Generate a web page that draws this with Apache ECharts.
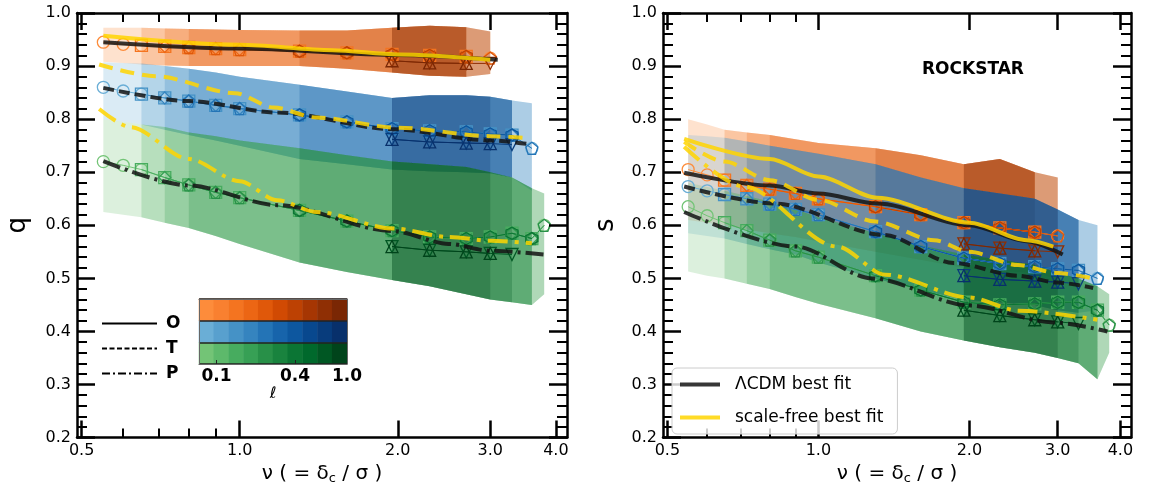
<!DOCTYPE html>
<html>
<head>
<meta charset="UTF-8">
<title>q and s versus nu</title>
<script src="https://cdn.jsdelivr.net/npm/echarts/dist/echarts.min.js"></script>
<style>
  html, body { margin: 0; padding: 0; background: #fff; }
  #chart { width: 1168px; height: 490px; }
</style>
</head>
<body>
<div id="chart"></div>
<script>
// nu = delta_c / sigma grid where medians and spreads were read
const NU = [0.55, 0.6, 0.65, 0.72, 0.8, 0.9, 1.0, 1.3, 1.6, 1.95, 2.3, 2.7, 3.0, 3.3, 3.6, 3.8];

// left panel: q
const qO_mid  = [0.945, 0.941, 0.939, 0.937, 0.935, 0.933, 0.931, 0.928, 0.925, 0.922, 0.920, 0.918, 0.915, null, null, null];
const qO_lo   = [0.908, 0.906, 0.903, 0.901, 0.900, 0.900, 0.900, 0.900, 0.895, 0.888, 0.882, 0.880, 0.885, null, null, null];
const qO_hi   = [0.972, 0.972, 0.972, 0.971, 0.970, 0.969, 0.968, 0.967, 0.967, 0.972, 0.976, 0.973, 0.965, null, null, null];
const qO_dark = [null, null, null, null, null, null, null, null, null, 0.910, 0.906, 0.905, 0.905, null, null, null];

const qT_mid  = [0.860, 0.853, 0.847, 0.840, 0.834, 0.826, 0.820, 0.808, 0.795, 0.782, 0.778, 0.776, 0.772, 0.770, 0.745, null];
const qT_lo   = [0.800, 0.795, 0.790, 0.780, 0.770, 0.760, 0.750, 0.725, 0.715, 0.705, 0.702, 0.700, 0.698, 0.690, 0.665, null];
const qT_hi   = [0.907, 0.906, 0.905, 0.900, 0.895, 0.888, 0.880, 0.865, 0.852, 0.840, 0.845, 0.845, 0.842, 0.835, 0.830, null];
const qT_dark = [null, null, null, null, null, null, null, null, null, 0.762, 0.757, 0.755, 0.754, 0.752, null, null];

const qP_mid  = [0.720, 0.713, 0.705, 0.690, 0.676, 0.662, 0.652, 0.628, 0.608, 0.590, 0.578, 0.575, 0.578, 0.585, 0.575, 0.600];
const qP_lo   = [0.625, 0.620, 0.615, 0.605, 0.595, 0.580, 0.565, 0.530, 0.512, 0.497, 0.485, 0.470, 0.460, 0.455, 0.450, 0.470];
const qP_hi   = [0.800, 0.795, 0.790, 0.785, 0.775, 0.768, 0.760, 0.745, 0.732, 0.720, 0.715, 0.710, 0.700, 0.690, 0.670, 0.660];
const qP_dark = [null, null, null, null, null, null, null, null, null, 0.560, 0.553, 0.550, 0.547, 0.545, null, null];

// right panel: s
const sO_mid  = [0.705, 0.695, 0.685, 0.675, 0.668, 0.660, 0.650, 0.635, 0.620, 0.605, 0.595, 0.587, 0.580, null, null, null];
const sO_lo   = [0.610, 0.605, 0.600, 0.592, 0.585, 0.578, 0.570, 0.550, 0.535, 0.520, 0.515, 0.510, 0.500, null, null, null];
const sO_hi   = [0.800, 0.790, 0.780, 0.775, 0.770, 0.762, 0.755, 0.745, 0.732, 0.715, 0.725, 0.700, 0.690, null, null, null];
const sO_dark = [null, null, null, null, null, null, null, null, null, 0.565, 0.557, 0.552, 0.550, null, null, null];

const sT_mid  = [0.673, 0.665, 0.658, 0.650, 0.640, 0.630, 0.620, 0.588, 0.560, 0.538, 0.528, 0.522, 0.518, 0.515, 0.500, null];
const sT_lo   = [0.585, 0.580, 0.575, 0.565, 0.555, 0.545, 0.530, 0.500, 0.478, 0.460, 0.455, 0.450, 0.440, 0.435, 0.440, null];
const sT_hi   = [0.770, 0.768, 0.765, 0.758, 0.750, 0.742, 0.735, 0.715, 0.690, 0.670, 0.660, 0.650, 0.630, 0.610, 0.600, null];
const sT_dark = [null, null, null, null, null, null, null, null, null, 0.505, 0.498, 0.495, 0.493, 0.490, null, null];

const sP_mid  = [0.635, 0.618, 0.605, 0.590, 0.572, 0.552, 0.540, 0.505, 0.478, 0.455, 0.450, 0.452, 0.455, 0.455, 0.440, 0.412];
const sP_lo   = [0.513, 0.505, 0.500, 0.490, 0.480, 0.465, 0.452, 0.425, 0.400, 0.383, 0.370, 0.360, 0.350, 0.340, 0.310, 0.360];
const sP_hi   = [0.680, 0.672, 0.665, 0.655, 0.645, 0.630, 0.615, 0.585, 0.562, 0.545, 0.535, 0.525, 0.510, 0.500, 0.485, 0.470];
const sP_dark = [null, null, null, null, null, null, null, null, null, 0.440, 0.430, 0.422, 0.418, 0.415, null, null];

// best-fit curves (nu, value)
const qFit_kO_nu = [0.55, 1.0, 2.0, 3.1];
const qFit_kO    = [0.945, 0.933, 0.921, 0.912];
const qFit_yO_nu = [0.55, 1.0, 1.5, 2.0, 3.0];
const qFit_yO    = [0.957, 0.940, 0.930, 0.922, 0.912];
const qFit_kT_nu = [0.55, 0.8, 1.18, 1.96, 3.0, 3.55];
const qFit_kT    = [0.859, 0.834, 0.8125, 0.781, 0.760, 0.753];
const qFit_yT_nu = [0.54, 0.69, 0.98, 1.16, 1.4, 2.0, 3.0, 3.55];
const qFit_yT    = [0.903, 0.881, 0.849, 0.822, 0.803, 0.784, 0.768, 0.764];
const qFit_kP_nu = [0.55, 0.8, 1.18, 1.96, 2.5, 3.0, 3.8];
const qFit_kP    = [0.721, 0.675, 0.638, 0.589, 0.565, 0.552, 0.545];
const qFit_yP_nu = [0.54, 0.62, 0.8, 1.0, 1.18, 1.4, 1.96, 2.5, 3.0, 3.6];
const qFit_yP    = [0.819, 0.785, 0.725, 0.683, 0.647, 0.625, 0.594, 0.578, 0.571, 0.566];

const sFit_kO_nu = [0.54, 0.8, 1.0, 1.31, 2.0, 2.6, 3.07];
const sFit_kO    = [0.699, 0.675, 0.660, 0.641, 0.600, 0.570, 0.545];
const sFit_yO_nu = [0.54, 0.8, 1.0, 1.31, 2.0, 2.6, 2.94];
const sFit_yO    = [0.763, 0.725, 0.692, 0.652, 0.605, 0.572, 0.560];
const sFit_kT_nu = [0.54, 0.82, 1.35, 1.86, 2.5, 3.0, 3.53];
const sFit_kT    = [0.673, 0.641, 0.582, 0.529, 0.505, 0.492, 0.482];
const sFit_yT_nu = [0.54, 0.65, 0.8, 1.0, 1.3, 1.7, 2.0, 2.5, 3.0, 3.53];
const sFit_yT    = [0.757, 0.720, 0.685, 0.648, 0.607, 0.572, 0.550, 0.525, 0.510, 0.500];
const sFit_kP_nu = [0.54, 0.9, 1.28, 2.0, 2.94, 3.77];
const sFit_kP    = [0.625, 0.560, 0.500, 0.449, 0.417, 0.400];
const sFit_yP_nu = [0.54, 0.71, 1.09, 1.36, 2.0, 2.51, 3.6];
const sFit_yP    = [0.748, 0.673, 0.560, 0.507, 0.464, 0.439, 0.422];

// colour shades for ell (light -> dark)
const ORANGES = ['#fd8c3b', '#f98030', '#f47420', '#ec6614', '#e0580a', '#d14a03', '#bd4103', '#a63603', '#8f2f04', '#7a2704'];
const BLUES   = ['#6aaed6', '#58a0ce', '#4592c6', '#3584bf', '#2474b6', '#1764ab', '#0d579f', '#08488e', '#083c7c', '#08306b'];
const GREENS  = ['#73c476', '#5db96b', '#47ac5f', '#37a055', '#289048', '#19833e', '#0b7534', '#00692c', '#005723', '#00441b'];

// ell bins: first grid point, points cut before group end, hard end, shade
const BIN_START = [0, 2, 3, 4, 7, 9, 9];
const BIN_TRIM  = [0, 1, 1, 0, 1, 0, 1];
const BIN_CAP   = [99, 99, 99, 99, 99, 13, 12];
const BIN_SHADE = [0, 2, 3, 4, 6, 8, 9];

const X_MAJOR = [0.5, 1, 2, 3, 4];
const X_MINOR = [0.6, 0.7, 0.8, 0.9];
const CB_TICKS = [0.1, 0.4, 1.0];

const FONT = 'DejaVu Sans';
const L = Math.log10;
const X_MIN = L(0.49), X_MAX = L(4.2);
const BAND_ALPHA = 0.25;

const PENTAGON = 'path://M0,-10L9.51,-3.09L5.88,8.09L-5.88,8.09L-9.51,-3.09Z';
const HEXAGON = 'path://M0,-10L8.66,-5L8.66,5L0,10L-8.66,5L-8.66,-5Z';
const DOWNTRI = 'path://M-10,-8L10,-8L0,9Z';
const SYMS = ['circle', 'rect', 'diamond', PENTAGON, HEXAGON, DOWNTRI, 'triangle'];

const K_DASH = { solid: 'solid', dashed: [11, 5], dashdot: [18, 5, 3, 5] };
const Y_DASH = { solid: 'solid', dashed: [14, 8], dashdot: [20, 7, 4, 7] };

const panels = [
  {
    grid: { left: 77, top: 13, width: 490, height: 428 }, yname: 'q', nameGap: 46,
    groups: [
      { mid: qO_mid, lo: qO_lo, hi: qO_hi, dark: qO_dark, last: 12, pal: ORANGES },
      { mid: qT_mid, lo: qT_lo, hi: qT_hi, dark: qT_dark, last: 14, pal: BLUES },
      { mid: qP_mid, lo: qP_lo, hi: qP_hi, dark: qP_dark, last: 15, pal: GREENS }
    ],
    fits: [
      [qFit_kO_nu, qFit_kO, qFit_yO_nu, qFit_yO, 'solid'],
      [qFit_kT_nu, qFit_kT, qFit_yT_nu, qFit_yT, 'dashed'],
      [qFit_kP_nu, qFit_kP, qFit_yP_nu, qFit_yP, 'dashdot']
    ]
  },
  {
    grid: { left: 663, top: 13, width: 468, height: 428 }, yname: 's', nameGap: 44,
    groups: [
      { mid: sO_mid, lo: sO_lo, hi: sO_hi, dark: sO_dark, last: 12, pal: ORANGES },
      { mid: sT_mid, lo: sT_lo, hi: sT_hi, dark: sT_dark, last: 14, pal: BLUES },
      { mid: sP_mid, lo: sP_lo, hi: sP_hi, dark: sP_dark, last: 15, pal: GREENS }
    ],
    fits: [
      [sFit_kO_nu, sFit_kO, sFit_yO_nu, sFit_yO, 'solid'],
      [sFit_kT_nu, sFit_kT, sFit_yT_nu, sFit_yT, 'dashed'],
      [sFit_kP_nu, sFit_kP, sFit_yP_nu, sFit_yP, 'dashdot']
    ]
  }
];

const frameLine = { show: true, onZero: false, lineStyle: { color: '#000', width: 2.5 } };
const grids = [], xAxes = [], yAxes = [], series = [];

function bandSeries(xi, yi, pts, color) {
  return {
    type: 'custom', xAxisIndex: xi, yAxisIndex: yi, z: 1, silent: true,
    data: pts,
    encode: { x: 0, y: [1, 2] },
    renderItem: function (params, api) {
      if (params.dataIndex !== 0) return null;
      const up = pts.map(d => api.coord([d[0], d[2]]));
      const dn = pts.map(d => api.coord([d[0], d[1]])).reverse();
      return { type: 'polygon', shape: { points: up.concat(dn) },
               style: { fill: color, opacity: BAND_ALPHA } };
    }
  };
}

panels.forEach((p, pi) => {
  grids.push(p.grid);
  const xi = pi * 4, yi = pi * 2;
  const xb = { gridIndex: pi, type: 'value', min: X_MIN, max: X_MAX, z: 10, splitLine: { show: false } };
  const majTick = { show: true, inside: true, length: 17, lineStyle: { color: '#000', width: 2.5 }, customValues: X_MAJOR.map(L) };
  const minTick = { show: true, inside: true, length: 9, lineStyle: { color: '#000', width: 2 }, customValues: X_MINOR.map(L) };
  xAxes.push(Object.assign({}, xb, {
    position: 'bottom', axisLine: frameLine, axisTick: majTick,
    axisLabel: { customValues: X_MAJOR.map(L), formatter: v => Math.pow(10, v).toFixed(1),
                 fontFamily: FONT, fontSize: 16, color: '#000', margin: 5 },
    name: 'ν ( = δ{s|c} / σ )', nameLocation: 'middle', nameGap: 20,
    nameTextStyle: { fontFamily: FONT, fontSize: 20, color: '#000',
                     rich: { s: { fontFamily: FONT, fontSize: 13, color: '#000', padding: [10, 0, 0, 0] } } }
  }));
  xAxes.push(Object.assign({}, xb, { position: 'bottom', axisLine: { show: false }, axisTick: minTick, axisLabel: { show: false } }));
  xAxes.push(Object.assign({}, xb, { position: 'top', axisLine: frameLine, axisTick: majTick, axisLabel: { show: false } }));
  xAxes.push(Object.assign({}, xb, { position: 'top', axisLine: { show: false }, axisTick: minTick, axisLabel: { show: false } }));

  const yb = {
    gridIndex: pi, type: 'value', min: 0.2, max: 1.0, interval: 0.1, z: 10,
    splitLine: { show: false }, axisLine: frameLine,
    axisTick: { show: true, inside: true, length: 18, lineStyle: { color: '#000', width: 2.5 } },
    minorTick: { show: true, splitNumber: 5, length: 10, lineStyle: { color: '#000', width: 2 } }
  };
  yAxes.push(Object.assign({}, yb, {
    position: 'left',
    axisLabel: { formatter: v => v.toFixed(1), fontFamily: FONT, fontSize: 16, color: '#000', margin: 6 },
    name: p.yname, nameLocation: 'middle', nameGap: p.nameGap,
    nameTextStyle: { fontFamily: FONT, fontSize: 26, color: '#000' }
  }));
  yAxes.push(Object.assign({}, yb, { position: 'right', axisLabel: { show: false } }));

  // bands and medians per ell bin
  p.groups.forEach(g => {
    for (let b = 0; b < BIN_START.length; b++) {
      const s = BIN_START[b];
      const e = Math.min(g.last - BIN_TRIM[b], BIN_CAP[b]);
      const src = b >= 5 ? g.dark : g.mid;
      const pts = [], marks = [];
      for (let i = s; i <= e; i++) {
        pts.push([L(NU[i]), g.lo[i], g.hi[i]]);
        if (src[i] != null) marks.push([L(NU[i]), src[i]]);
      }
      const col = g.pal[BIN_SHADE[b]];
      series.push(bandSeries(xi, yi, pts, col));
      series.push({
        type: 'line', xAxisIndex: xi, yAxisIndex: yi, z: 2, silent: true,
        data: marks, symbol: SYMS[b], symbolSize: 12, showAllSymbol: true,
        itemStyle: { color: 'rgba(0,0,0,0)', borderColor: col, borderWidth: 1.3 },
        lineStyle: { color: col, width: 1 }
      });
    }
  });

  // best fits: black first, yellow on top
  p.fits.forEach(f => {
    series.push({
      name: 'ΛCDM best fit', type: 'line', xAxisIndex: xi, yAxisIndex: yi, z: 3, silent: true,
      data: f[0].map((n, i) => [L(n), f[1][i]]), symbol: 'none', smooth: 0.3, smoothMonotone: 'x',
      lineStyle: { color: 'rgba(20,20,20,0.85)', width: 4, type: K_DASH[f[4]] }
    });
  });
  p.fits.forEach(f => {
    series.push({
      name: 'scale-free best fit', type: 'line', xAxisIndex: xi, yAxisIndex: yi, z: 4, silent: true,
      data: f[2].map((n, i) => [L(n), f[3][i]]), symbol: 'none', smooth: 0.3, smoothMonotone: 'x',
      lineStyle: { color: 'rgba(255,213,0,0.85)', width: 4, type: Y_DASH[f[4]] }
    });
  });
});

// line-style key for O / T / P
[['O', 'solid'], ['T', [5, 2.5]], ['P', [8, 3, 2, 3]]].forEach(([n, t]) => {
  series.push({ name: n, type: 'line', xAxisIndex: 0, yAxisIndex: 0, data: [], symbol: 'none',
                lineStyle: { color: '#000', width: 1.5, type: t } });
});

// colour bar inset (ell shades)
grids.push({ left: 199, top: 299, width: 148, height: 65 });
const CB_ROWS = [GREENS, BLUES, ORANGES];
const cbData = [];
CB_ROWS.forEach((row, r) => row.forEach((c, k) => cbData.push({ value: [k, r, 1], itemStyle: { color: c } })));
const cbCols = ORANGES.map((_, k) => String(k));
const cbEdge = { show: true, onZero: false, lineStyle: { color: '#666', width: 1 } };
xAxes.push({ gridIndex: 2, type: 'category', data: cbCols, position: 'bottom', z: 10,
             axisLine: cbEdge, axisTick: { show: false }, axisLabel: { show: false } });
xAxes.push({ gridIndex: 2, type: 'category', data: cbCols, position: 'top', z: 10,
             axisLine: cbEdge, axisTick: { show: false }, axisLabel: { show: false } });
xAxes.push({ gridIndex: 2, type: 'value', min: L(0.0735), max: 0, position: 'bottom', z: 11,
             axisLine: { show: false }, splitLine: { show: false },
             axisTick: { show: true, inside: true, length: 4, lineStyle: { color: '#222', width: 1 }, customValues: [L(0.1), L(0.4)] },
             axisLabel: { customValues: CB_TICKS.map(L), formatter: v => Math.pow(10, v).toFixed(1),
                          fontFamily: FONT, fontWeight: 'bold', fontSize: 17, color: '#000', margin: 4 },
             name: 'ℓ', nameLocation: 'middle', nameGap: 19,
             nameTextStyle: { fontFamily: FONT, fontStyle: 'italic', fontSize: 16, color: '#000' } });
yAxes.push({ gridIndex: 2, type: 'category', data: ['P', 'T', 'O'], position: 'left', z: 10,
             axisLine: cbEdge, axisTick: { show: false }, axisLabel: { show: false },
             splitLine: { show: true, interval: 0, lineStyle: { color: '#222', width: 1.5 } } });
yAxes.push({ gridIndex: 2, type: 'category', data: ['P', 'T', 'O'], position: 'right', z: 10,
             axisLine: cbEdge, axisTick: { show: false }, axisLabel: { show: false } });
series.push({ type: 'heatmap', xAxisIndex: 8, yAxisIndex: 4, data: cbData, silent: true,
              emphasis: { disabled: true }, z: 5 });

const chart = echarts.init(document.getElementById('chart'));
chart.setOption({
  animation: false,
  backgroundColor: '#fff',
  title: { text: 'ROCKSTAR', left: 917, top: 56,
           textStyle: { fontFamily: FONT, fontWeight: 'bold', fontSize: 17, color: '#000' } },
  legend: [
    { data: ['O', 'T', 'P'], orient: 'vertical', left: 96, top: 310, z: 20,
      itemWidth: 55, itemHeight: 12, itemGap: 8, selectedMode: false,
      itemStyle: { opacity: 0 },
      textStyle: { fontFamily: FONT, fontWeight: 'bold', fontSize: 17, color: '#000', padding: [0, 0, 0, 4] } },
    { data: ['ΛCDM best fit', 'scale-free best fit'], orient: 'vertical', left: 672, top: 368, z: 20,
      itemWidth: 40, itemHeight: 14, itemGap: 16, selectedMode: false,
      padding: [8, 14, 8, 6], backgroundColor: 'rgba(255,255,255,0.8)',
      borderColor: '#cccccc', borderWidth: 1, borderRadius: 5,
      itemStyle: { opacity: 0 }, lineStyle: { width: 4 },
      textStyle: { fontFamily: FONT, fontSize: 17, color: '#000', padding: [0, 0, 0, 10] } }
  ],
  grid: grids,
  xAxis: xAxes,
  yAxis: yAxes,
  series: series
});
</script>
</body>
</html>
